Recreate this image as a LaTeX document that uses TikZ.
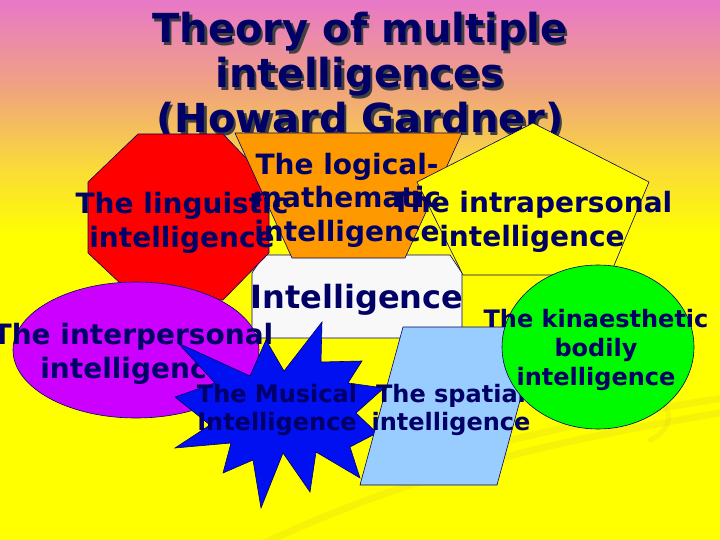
\documentclass[tikz,border=0pt]{standalone}
\usepackage{fontspec}
\setmainfont{DejaVu Sans}
\definecolor{navytext}{RGB}{0,0,102}
\definecolor{bgpink}{RGB}{232,120,200}
\definecolor{bgsalmon}{RGB}{240,165,125}
\definecolor{bggold}{RGB}{250,220,55}
\definecolor{bgyellow}{RGB}{255,255,0}
\definecolor{octred}{RGB}{255,0,0}
\definecolor{traporange}{RGB}{255,153,0}
\definecolor{pentyellow}{RGB}{255,255,0}
\definecolor{boxwhite}{RGB}{248,248,248}
\definecolor{ellpurple}{RGB}{204,0,255}
\definecolor{starblue}{RGB}{0,16,240}
\definecolor{parblue}{RGB}{153,204,255}
\definecolor{circgreen}{RGB}{0,250,0}

\begin{document}
\begin{tikzpicture}[x=1pt, y=-1pt,
    shp/.style={draw=navytext, line width=0.6pt},
    lbl/.style={font=\fontsize{28}{33.6}\selectfont\bfseries, text=navytext, align=center, inner sep=0pt},
    slbl/.style={lbl, font=\fontsize{24}{28.8}\selectfont\bfseries},
    ttl/.style={lbl, font=\fontsize{40}{45}\selectfont\bfseries},
    swoosh/.style={line width=7pt, draw=yellow!85!black, opacity=0.25, line cap=round}
]
\useasboundingbox (0,0) rectangle (720,540);
\shade[top color=bgpink, bottom color=bgsalmon] (0,0) rectangle (720,90.5);
\shade[top color=bgsalmon, bottom color=bggold] (0,90) rectangle (720,170.5);
\shade[top color=bggold, bottom color=bgyellow] (0,170) rectangle (720,235.5);
\fill[bgyellow] (0,235) rectangle (720,540);
\draw[swoosh] (260,545) .. controls (420,470) and (560,440) .. (725,412);
\draw[swoosh] (450,455) .. controls (540,432) and (640,410) .. (725,398);
\draw[swoosh, line width=5pt] (655,395) .. controls (675,410) and (672,430) .. (650,440);

\node[ttl, text=black!75] (ttlshadow) at (362.5,77.5) {Theory of multiple\\intelligences\\(Howard Gardner)};
\node[ttl] (title) at (360,75) {Theory of multiple\\intelligences\\(Howard Gardner)};

\filldraw[shp, fill=boxwhite] (252,273) -- (264,255) -- (450,255) -- (462,273) -- (462,338) -- (252,338) -- cycle;
\filldraw[shp, fill=octred] (138,134) -- (223,134) -- (269,182) -- (269,253) -- (223,300) -- (138,300) -- (88,253) -- (88,182) -- cycle;
\filldraw[shp, fill=traporange] (235,133) -- (462,133) -- (405,258) -- (292,258) -- cycle;
\filldraw[shp, fill=pentyellow] (533,123) -- (649,182) -- (610,275) -- (463,275) -- (417,182) -- cycle;

\node[lbl] (linguistic) at (182,223) {The linguistic\\intelligence};
\node[lbl] (logical) at (347,200) {The logical-\\mathematic\\intelligence};
\node[lbl] (intrapersonal) at (532,222) {The intrapersonal\\intelligence};
\node[lbl, font=\fontsize{32}{38}\selectfont\bfseries] (centre) at (357,300) {Intelligence};

\filldraw[shp, fill=ellpurple] (136,350) ellipse [x radius=123pt, y radius=68pt];
\node[lbl] (interpersonal) at (133,354) {The interpersonal\\intelligence};

\filldraw[shp, fill=starblue] (322,322) -- (321,362) -- (362,361) -- (348,383) -- (384,388) -- (356,413)
  -- (377,433) -- (350,447) -- (360,478) -- (316,452) -- (310,492) -- (283,453) -- (261,508)
  -- (253,460) -- (223,473) -- (231,443) -- (175,448) -- (210,425) -- (175,397) -- (215,383)
  -- (178,343) -- (250,376) -- (266,340) -- (284,371) -- cycle;
\node[slbl] (musical) at (277,410) {The Musical\\Intelligence};

\filldraw[shp, fill=parblue] (403,327) -- (540,327) -- (497,485) -- (360,485) -- cycle;
\node[slbl] (spatial) at (451,410) {The spatial\\intelligence};

\filldraw[shp, fill=circgreen] (598,347) ellipse [x radius=96pt, y radius=82pt];
\node[slbl] (kinaesthetic) at (596,350) {The kinaesthetic\\bodily\\intelligence};
\end{tikzpicture}
\end{document}
